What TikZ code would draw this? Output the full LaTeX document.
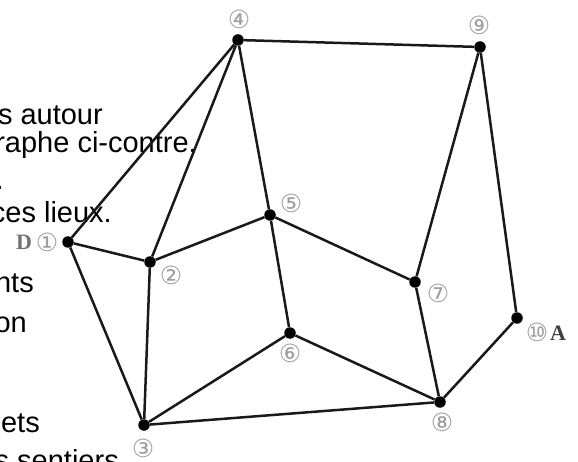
\documentclass[tikz,border=0pt]{standalone}
\usepackage{fontspec}
\setmainfont{Liberation Sans}
\newfontfamily\circfont{DejaVu Sans}
\newfontfamily\letterfont{Liberation Serif}
\begin{document}
\begin{tikzpicture}[x=1pt,y=-1pt,
  vertex/.style={circle,fill=black,inner sep=0pt,minimum size=11.5pt},
  edgeline/.style={line width=2.5pt,draw=black!90},
  num/.style={font=\circfont\fontsize{25}{25}\selectfont,text=black!38,inner sep=0pt},
  letter/.style={font=\letterfont\bfseries\fontsize{22}{22}\selectfont,inner sep=0pt},
  frag/.style={font=\fontsize{29}{29}\selectfont,anchor=base east,inner sep=0pt}]
\useasboundingbox (0,0) rectangle (578,462);
\begin{scope}
\clip (0,0) rectangle (578,462);
% text of the exercise, running off the left edge
\node[frag] (t1) at (103,125) {s autour};
\node[frag] (t2) at (197,153) {raphe ci-contre.};
\node[frag] (t3) at (4,190) {.};
\node[frag] (t4) at (112,223) {ces lieux.};
\node[frag] (t5) at (34,293) {nts};
\node[frag] (t6) at (27,332) {on};
\node[frag] (t7) at (40,432) {ets};
\node[frag] (t8) at (119,470) {s sentiers};
\end{scope}

% places
\node[vertex] (n1) at (68,242) {};
\node[vertex] (n2) at (150,262) {};
\node[vertex] (n3) at (144,425) {};
\node[vertex] (n4) at (238,40) {};
\node[vertex] (n5) at (270,215) {};
\node[vertex] (n6) at (290,333) {};
\node[vertex] (n7) at (415,282) {};
\node[vertex] (n8) at (440,402) {};
\node[vertex] (n9) at (480,47) {};
\node[vertex] (n10) at (517,318) {};

% paths between the places
\draw[edgeline] (n1) -- (n4);
\draw[edgeline] (n1) -- (n2);
\draw[edgeline] (n1) -- (n3);
\draw[edgeline] (n2) -- (n4);
\draw[edgeline] (n2) -- (n5);
\draw[edgeline] (n2) -- (n3);
\draw[edgeline] (n4) -- (n9);
\draw[edgeline] (n4) -- (n5);
\draw[edgeline] (n5) -- (n6);
\draw[edgeline] (n5) -- (n7);
\draw[edgeline] (n9) -- (n7);
\draw[edgeline] (n9) -- (n10);
\draw[edgeline] (n10) -- (n8);
\draw[edgeline] (n7) -- (n8);
\draw[edgeline] (n6) -- (n3);
\draw[edgeline] (n6) -- (n8);
\draw[edgeline] (n3) -- (n8);

% numbers of the places
\node[num] (l1) at (47,242) {①};
\node[num] (l2) at (171,275) {②};
\node[num] (l3) at (143,448) {③};
\node[num] (l4) at (239,19) {④};
\node[num] (l5) at (291,203) {⑤};
\node[num] (l6) at (290,353) {⑥};
\node[num] (l7) at (438,293) {⑦};
\node[num] (l8) at (442,422) {⑧};
\node[num] (l9) at (479,25) {⑨};
\node[num] (l10) at (537,332) {⑩};

% start and end
\node[letter,text=black!55] (dl) at (24,242) {D};
\node[letter,text=black!75] (al) at (558,333) {A};
\end{tikzpicture}
\end{document}
